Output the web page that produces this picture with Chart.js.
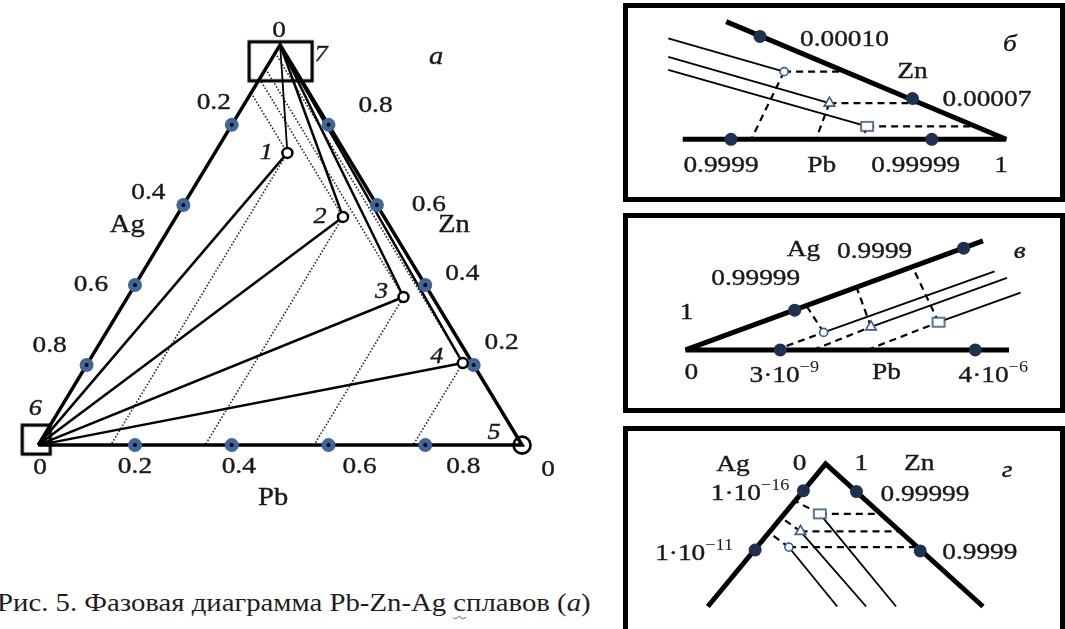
<!DOCTYPE html>
<html lang="ru">
<head>
<meta charset="utf-8">
<title>Фазовая диаграмма Pb-Zn-Ag</title>
<script src="https://cdn.jsdelivr.net/npm/chart.js@4.4.1/dist/chart.umd.min.js"></script>
<style>
    html, body { margin: 0; padding: 0; background: #fff; }
    body { position: relative; width: 1065px; height: 629px; overflow: hidden; }
    canvas { position: absolute; }
    .frame { position: absolute; box-sizing: border-box; border: 5px solid #000; }
    #caption {
        position: absolute; left: -3px; top: 589px;
        font: 25px 'Liberation Serif', 'Times New Roman', serif; color: #1e1e1e;
        white-space: nowrap; transform: scaleX(1.15); transform-origin: 0 0;
    }
    .squiggle { text-decoration: underline wavy #5aa05a; text-decoration-thickness: 1px; text-underline-offset: 4px; }
</style>
</head>
<body>
<div class="frame" style="left:623px; top:3px; width:442px; height:199px;"></div>
<div class="frame" style="left:623px; top:213px; width:442px; height:200px;"></div>
<div class="frame" style="left:623px; top:426px; width:442px; height:215px;"></div>
<canvas id="mainChart" width="620" height="560" style="left:0; top:0;"></canvas>
<canvas id="insetB" width="445" height="210" style="left:620px; top:0;"></canvas>
<canvas id="insetV" width="445" height="205" style="left:620px; top:210px;"></canvas>
<canvas id="insetG" width="445" height="209" style="left:620px; top:420px;"></canvas>
<div id="caption">Рис. 5. Фазовая диаграмма Pb-Zn-Ag <span class="squiggle">с</span>плавов (<i>а</i>)</div>

<script>
// ---- Diagram а: composition of the points 1-4 (fractions of Ag, Pb, Zn) ----
const pointLabels = ['1', '2', '3', '4'];
const pointAg = [0.12, 0.085, 0.06, 0.02];
const pointPb = [0.15, 0.345, 0.57, 0.775];
const pointZn = [0.73, 0.57, 0.37, 0.205];

// ticks on each side of the triangle
const sideTicks = [0.2, 0.4, 0.6, 0.8];
const sideTickLabels = ['0.2', '0.4', '0.6', '0.8'];

// ---- Inset б: Pb corner (schematic units) ----
const bSides = [[0.45, 1.27], [3.35, 0], [0, 0]];
const bTickPts = [[0.80, 1.11], [2.38, 0.44], [0.50, 0], [2.58, 0]];
const bTickLabels = ['0.00010', '0.00007', '0.9999', '0.99999'];
const bMarks = [[1.05, 0.73], [1.52, 0.39], [1.91, 0.14]];     // circle, triangle, square
const bLineStart = [[-0.15, 1.09], [-0.15, 0.89], [-0.15, 0.75]];
const bDashToZn = [[1.68, 0.73], [2.46, 0.39], [3.03, 0.14]];
const bDashToPb = [[0.71, 0], [1.38, 0], [1.86, 0]];

// ---- Inset в: Ag corner (schematic units) ----
const vSides = [[3.08, 1.18], [0, 0], [3.35, 0]];
const vTickPts = [[1.13, 0.43], [2.88, 1.10], [0.98, 0], [3.00, 0]];
const vTickLabels = ['0.99999', '0.9999', '3·10', '4·10'];
const vTickSup = ['', '', '−9', '−6'];
const vMarks = [[1.43, 0.19], [1.92, 0.25], [2.62, 0.30]];
const vLineEnd = [[3.20, 0.85], [3.33, 0.78], [3.47, 0.62]];
const vDashToAg = [[1.25, 0.48], [1.77, 0.68], [2.35, 0.90]];
const vDashFromPb = [[0.93, 0], [1.32, 0], [1.88, 0]];

// ---- Inset г: Zn corner (schematic units) ----
const gSides = [[-1.22, -1.54], [0, 0], [1.63, -1.54]];
const gTickPts = [[-0.23, -0.29], [-0.73, -0.93], [0.32, -0.30], [0.98, -0.94]];
const gTickLabels = ['1·10', '1·10', '0.99999', '0.9999'];
const gTickSup = ['−16', '−11', '', ''];
const gMarks = [[-0.38, -0.90], [-0.26, -0.73], [-0.06, -0.54]];
const gLineEnd = [[0.12, -1.54], [0.42, -1.54], [0.73, -1.54]];
const gDashToZn = [[0.97, -0.90], [0.78, -0.73], [0.57, -0.54]];
const gDashToAg = [[-0.59, -0.74], [-0.46, -0.58], [-0.32, -0.40]];

// ---- layout: fonts, colours, label offsets in px (dx, dy) ----
const FONT = '"Liberation Serif", "Times New Roman", serif';
const TEXT_STRETCH = 1.14;
const INK = '#1a1a1a';
const TICK_BLUE = '#3f679c';
const MARK_BLUE = '#3d5f8f';
const DOT_NAVY = '#1f3050';

const mainTickOffsets = {
    ag: [[-18, -22], [-35, -12], [-44, 0], [-37, -19]],
    zn: [[28, -22], [37, -11], [52, 0], [47, -19]],
    pb: [[0, 22], [7, 22], [31, 22], [38, 22]]
};
const pointLabelOffsets = [[-21, 0], [-23, 0], [-22, -5], [-26, -6]];
const bTickOffsets = [[40, 3, 'left'], [30, 1, 'left'], [-10, 26, 'center'], [-16, 26, 'center']];
const vTickOffsets = [[-39, -31, 'center'], [-89, 3, 'center'], [4, 26, 'center'], [18, 26, 'center']];
const gTickOffsets = [[-14, 3, 'right'], [-22, 4, 'right'], [24, 3, 'left'], [22, 2, 'left']];

// ---- helpers ----
function tern(ag, pb, zn) {
    return { x: pb + zn / 2, y: zn };
}
const xy = p => ({ x: p[0], y: p[1] });

function lineSet(points, width, color, dash, order, join) {
    return {
        data: points.map(p => Array.isArray(p) ? xy(p) : p),
        showLine: true,
        borderColor: color,
        borderWidth: width,
        borderDash: dash || [],
        borderJoinStyle: join || 'miter',
        pointRadius: 0,
        fill: false,
        order: order
    };
}

// outlined rectangle used as a point style (vertex boxes, square markers)
function makeBox(w, h, dx, dy, lw, color, fill) {
    const c = document.createElement('canvas');
    c.width = Math.ceil(w + 2 * Math.abs(dx) + lw + 2);
    c.height = Math.ceil(h + 2 * Math.abs(dy) + lw + 2);
    const g = c.getContext('2d');
    const x0 = c.width / 2 + dx - w / 2, y0 = c.height / 2 + dy - h / 2;
    if (fill) {
        g.fillStyle = fill;
        g.fillRect(x0, y0, w, h);
    }
    g.lineWidth = lw;
    g.strokeStyle = color;
    g.strokeRect(x0, y0, w, h);
    return c;
}

// text drawn in data coordinates, a little widened like the scanned figure
const textLabels = {
    id: 'textLabels',
    afterDatasetsDraw(chart, args, opts) {
        const ctx = chart.ctx;
        const xs = chart.scales.x, ys = chart.scales.y;
        (opts.items || []).forEach(item => {
            const size = item.size || 24;
            const font = (item.italic ? 'italic ' : '') + size + 'px ' + FONT;
            const supFont = Math.round(size * 0.68) + 'px ' + FONT;
            ctx.save();
            ctx.translate(xs.getPixelForValue(item.x) + (item.dx || 0), ys.getPixelForValue(item.y) + (item.dy || 0));
            ctx.scale(TEXT_STRETCH, 1);
            ctx.fillStyle = INK;
            ctx.strokeStyle = INK;
            ctx.lineWidth = 0.4;
            ctx.textBaseline = 'middle';
            ctx.textAlign = 'left';
            ctx.font = font;
            const w = ctx.measureText(item.text).width;
            let ws = 0;
            if (item.sup) {
                ctx.font = supFont;
                ws = ctx.measureText(item.sup).width;
            }
            const total = w + ws;
            const x0 = item.align === 'left' ? 0 : item.align === 'right' ? -total : -total / 2;
            ctx.font = font;
            ctx.fillText(item.text, x0, 0);
            ctx.strokeText(item.text, x0, 0);
            if (item.sup) {
                ctx.font = supFont;
                ctx.fillText(item.sup, x0 + w, -size * 0.32);
            }
            ctx.restore();
        });
    }
};

function drawChart(id, frame, datasets, items) {
    const canvas = document.getElementById(id);
    const W = canvas.width, H = canvas.height;
    return new Chart(canvas, {
        type: 'scatter',
        data: { datasets: datasets },
        options: {
            responsive: false,
            animation: false,
            events: [],
            layout: { padding: 0 },
            plugins: {
                legend: { display: false },
                tooltip: { enabled: false },
                textLabels: { items: items }
            },
            scales: {
                x: { type: 'linear', display: false, min: -frame.ox / frame.kx, max: (W - frame.ox) / frame.kx },
                y: { type: 'linear', display: false, min: -(H - frame.oy) / frame.ky, max: frame.oy / frame.ky }
            }
        },
        plugins: [textLabels]
    });
}

// ---- main ternary diagram ----
function buildMain() {
    const AG = tern(1, 0, 0), PB = tern(0, 1, 0), ZN = tern(0, 0, 1);
    const pts = pointAg.map((ag, i) => tern(ag, pointPb[i], pointZn[i]));
    const sets = [];

    sets.push(lineSet([AG, PB, ZN, AG], 3.5, '#000', [], 4));
    pts.forEach((p, i) => {
        sets.push(lineSet([AG, p], 2.5, '#000', [], 4));
        sets.push(lineSet([ZN, p], i === 0 ? 1.8 : 2.5, '#000', [], 4));
        // constant Ag up to the Ag-Zn side, constant Pb down to the base
        const ag = pointAg[i], pb = pointPb[i];
        sets.push(lineSet([tern(ag, 0, 1 - ag), p, tern(1 - pb, pb, 0)], 1.6, '#2a2a2a', [1.6, 1.8], 6));
    });

    const tickPts = [];
    sideTicks.forEach(t => tickPts.push(tern(t, 0, 1 - t), tern(0, 1 - t, t), tern(1 - t, t, 0)));
    sets.push({ data: tickPts, pointStyle: 'circle', pointRadius: 4.5, borderWidth: 5,
        borderColor: TICK_BLUE, backgroundColor: '#000', order: 1 });

    sets.push({ data: pts, pointStyle: 'circle', pointRadius: 5, borderWidth: 2.5,
        borderColor: '#000', backgroundColor: '#fff', order: 0 });
    sets.push({ data: [PB], pointStyle: 'circle', pointRadius: 8.5, borderWidth: 2.7,
        borderColor: '#000', backgroundColor: 'rgba(0,0,0,0)', order: 0 });
    sets.push({ data: [ZN, AG], pointRadius: 10, order: 0,
        pointStyle: [makeBox(63, 39, 0.5, 16.5, 3.2, '#000'), makeBox(28, 29, -2, -5.5, 3.2, '#000')] });

    const items = [];
    sideTicks.forEach((t, i) => {
        const a = tern(t, 0, 1 - t), z = tern(0, 1 - t, t), b = tern(1 - t, t, 0);
        items.push({ text: sideTickLabels[i], x: a.x, y: a.y, dx: mainTickOffsets.ag[i][0], dy: mainTickOffsets.ag[i][1] });
        items.push({ text: sideTickLabels[i], x: z.x, y: z.y, dx: mainTickOffsets.zn[i][0], dy: mainTickOffsets.zn[i][1] });
        items.push({ text: sideTickLabels[i], x: b.x, y: b.y, dx: mainTickOffsets.pb[i][0], dy: mainTickOffsets.pb[i][1] });
    });
    const agMid = tern(0.45, 0, 0.55), znMid = tern(0, 0.45, 0.55), pbMid = tern(0.5, 0.5, 0);
    items.push({ text: 'Ag', x: agMid.x, y: agMid.y, dx: -44, dy: 0, size: 25 });
    items.push({ text: 'Zn', x: znMid.x, y: znMid.y, dx: 65, dy: 0, size: 25 });
    items.push({ text: 'Pb', x: pbMid.x, y: pbMid.y, dx: -7, dy: 53, size: 25 });
    items.push({ text: '0', x: ZN.x, y: ZN.y, dx: -1, dy: -14 });
    items.push({ text: '7', x: ZN.x, y: ZN.y, dx: 41, dy: 10, italic: true, size: 23 });
    items.push({ text: 'а', x: ZN.x, y: ZN.y, dx: 156, dy: 13, italic: true, size: 25 });
    items.push({ text: '0', x: AG.x, y: AG.y, dx: 2, dy: 23 });
    items.push({ text: '6', x: AG.x, y: AG.y, dx: -3, dy: -36, italic: true, size: 23 });
    items.push({ text: '0', x: PB.x, y: PB.y, dx: 26, dy: 25 });
    items.push({ text: '5', x: PB.x, y: PB.y, dx: -28, dy: -12, italic: true, size: 23 });
    pts.forEach((p, i) => items.push({ text: pointLabels[i], x: p.x, y: p.y,
        dx: pointLabelOffsets[i][0], dy: pointLabelOffsets[i][1], italic: true, size: 23 }));

    drawChart('mainChart', { ox: 28, oy: 452, kx: 502, ky: 417 }, sets, items);
}

// ---- insets ----
const squareMark = makeBox(12, 9, 0, 0, 1.7, MARK_BLUE, '#fff');

function insetSets(sides, join, ticks, marks, ties, dashA, dashB) {
    const sets = [lineSet(sides, 5, '#000', [], 3, join)];
    marks.forEach((m, i) => {
        sets.push(lineSet(ties[i], 1.8, '#000', [], 4));
        sets.push(lineSet(dashA[i], 2.2, '#000', [7, 5], 4));
        sets.push(lineSet(dashB[i], 2.2, '#000', [7, 5], 4));
    });
    sets.push({ data: ticks.map(xy), pointStyle: 'circle', pointRadius: 6.5, borderWidth: 0,
        backgroundColor: DOT_NAVY, order: 1 });
    sets.push({ data: marks.map(xy), pointStyle: ['circle', 'triangle', squareMark],
        pointRadius: [4, 6, 6], borderWidth: 1.7, borderColor: MARK_BLUE, backgroundColor: '#fff', order: 0 });
    return sets;
}

function tickItems(pts, labels, sups, offsets) {
    return pts.map((p, i) => ({ text: labels[i], sup: sups[i] || '', x: p[0], y: p[1],
        dx: offsets[i][0], dy: offsets[i][1], align: offsets[i][2] }));
}

function buildInsets() {
    drawChart('insetB', { ox: 57, oy: 142, kx: 100, ky: 100 },
        insetSets(bSides, 'bevel', bTickPts, bMarks,
            bMarks.map((m, i) => [bLineStart[i], m]),
            bMarks.map((m, i) => [m, bDashToZn[i]]),
            bMarks.map((m, i) => [m, bDashToPb[i]])),
        tickItems(bTickPts, bTickLabels, [], bTickOffsets).concat([
            { text: '1', x: 3.35, y: 0, dx: -5, dy: 26 },
            { text: 'Pb', x: 1.44, y: 0, dy: 26 },
            { text: 'Zn', x: 2.38, y: 0.73 },
            { text: 'б', x: 3.39, y: 1.02, italic: true }
        ]));

    drawChart('insetV', { ox: 60, oy: 143, kx: 100, ky: 100 },
        insetSets(vSides, 'bevel', vTickPts, vMarks,
            vMarks.map((m, i) => [m, vLineEnd[i]]),
            vMarks.map((m, i) => [m, vDashToAg[i]]),
            vMarks.map((m, i) => [vDashFromPb[i], m])),
        tickItems(vTickPts, vTickLabels, vTickSup, vTickOffsets).concat([
            { text: 'Ag', x: 1.22, y: 1.08 },
            { text: '1', x: 0.01, y: 0.40 },
            { text: '0', x: 0.06, y: -0.25 },
            { text: 'Pb', x: 2.08, y: -0.25 },
            { text: 'в', x: 3.46, y: 1.06, italic: true }
        ]));

    drawChart('insetG', { ox: 205, oy: 39, kx: 100, ky: 100 },
        insetSets(gSides, 'miter', gTickPts, gMarks,
            gMarks.map((m, i) => [m, gLineEnd[i]]),
            gMarks.map((m, i) => [m, gDashToZn[i]]),
            gMarks.map((m, i) => [m, gDashToAg[i]])),
        tickItems(gTickPts, gTickLabels, gTickSup, gTickOffsets).concat([
            { text: 'Ag', x: -0.96, y: -0.01 },
            { text: '0', x: -0.27, y: 0 },
            { text: '1', x: 0.37, y: 0 },
            { text: 'Zn', x: 0.97, y: 0 },
            { text: 'г', x: 1.88, y: -0.07, italic: true }
        ]));
}

document.addEventListener('DOMContentLoaded', function() {
    buildMain();
    buildInsets();
});
</script>
</body>
</html>
